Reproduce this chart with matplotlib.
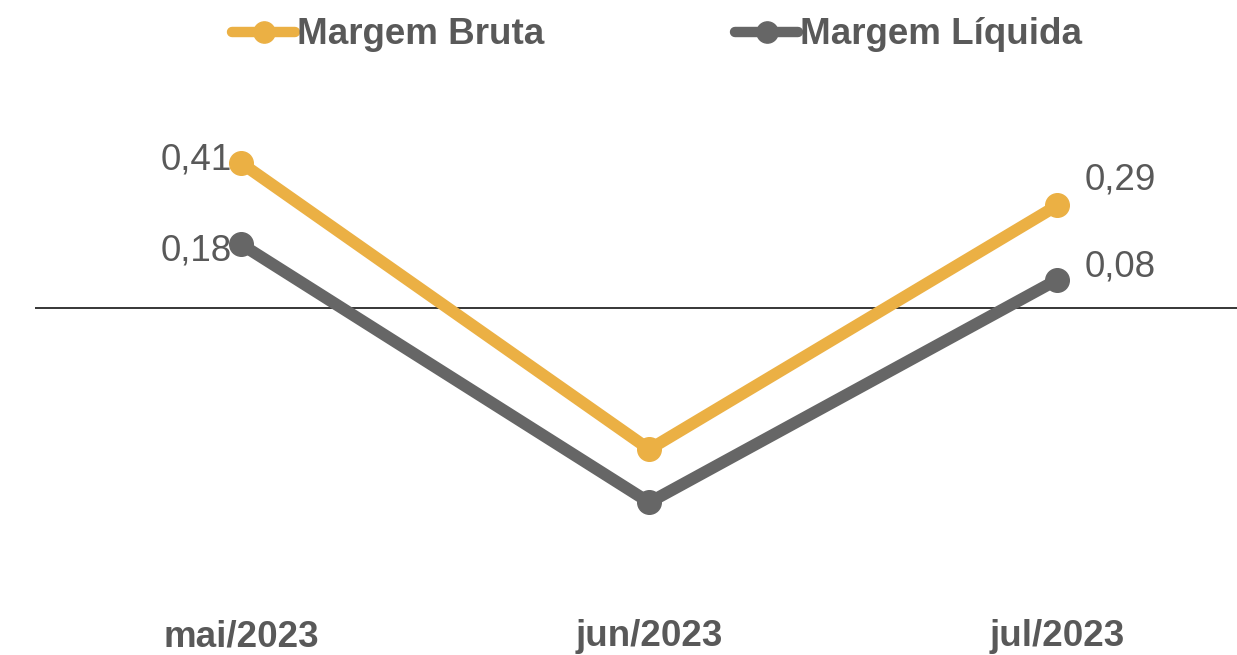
import matplotlib.pyplot as plt
import numpy as np

# -------------------------
# Data
# -------------------------
months = ["mai/2023", "jun/2023", "jul/2023"]
margem_bruta = [0.41, -0.40, 0.29]
margem_liquida = [0.18, -0.55, 0.08]

# only these points carry a label in the original
bruta_labels = ["0,41", None, "0,29"]
liquida_labels = ["0,18", None, "0,08"]

orange = "#EBB044"
gray = "#666666"
text_gray = "#595959"

plt.rcParams["font.family"] = ["Liberation Sans", "DejaVu Sans"]

# -------------------------
# Plot
# -------------------------
fig = plt.figure(figsize=(12.37, 6.55), dpi=100)
ax = fig.add_axes([35 / 1237, 1 - 600 / 655, 1202 / 1237, 500 / 655])

x = np.arange(len(months))
ax.plot(x, margem_bruta, color=orange, lw=8.6, marker="o", ms=17,
        solid_capstyle="round", label="Margem Bruta", zorder=3)
ax.plot(x, margem_liquida, color=gray, lw=8.6, marker="o", ms=17,
        solid_capstyle="round", label="Margem Líquida", zorder=3)

ax.axhline(0, color="black", lw=1.1, zorder=1)

# data labels
offsets_b = [(-9, 3, "right"), None, (27, 25, "left")]
offsets_l = [(-9, -7, "right"), None, (27, 13, "left")]
for vals, labs, offs in [(margem_bruta, bruta_labels, offsets_b),
                         (margem_liquida, liquida_labels, offsets_l)]:
    for i, (v, lab) in enumerate(zip(vals, labs)):
        if lab is None:
            continue
        dx, dy, ha = offs[i]
        ax.annotate(lab, (x[i], v), xytext=(dx, dy), textcoords="offset pixels",
                    ha=ha, va="center", fontsize=26.5, color=text_gray)

ax.set_xlim(-0.505, 2.44)
ax.set_ylim(-0.826, 0.588)
ax.set_xticks(x)
ax.set_xticklabels(months, fontsize=26.5, fontweight="bold", color=text_gray)
ax.tick_params(axis="x", length=0, pad=14)
ax.set_yticks([])
for s in ax.spines.values():
    s.set_visible(False)

fig.legend(
    loc="center",
    bbox_to_anchor=(657 / 1237, 1 - 35 / 655),
    ncol=2,
    frameon=False,
    prop={"size": 26.5, "weight": "bold"},
    labelcolor=text_gray,
    handlelength=1.7,
    handletextpad=0.05,
    columnspacing=5.2,
    markerscale=0.9,
)
for line in fig.legends[0].get_lines():
    line.set_linewidth(7.5)

plt.savefig("out.png", dpi=100)
